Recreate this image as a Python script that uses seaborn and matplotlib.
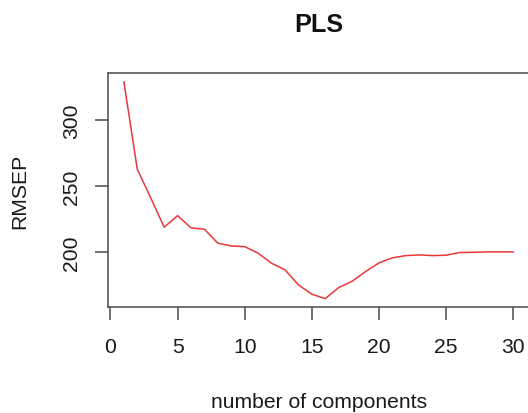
import numpy as np
import pandas as pd
import matplotlib
matplotlib.use("Agg")
import matplotlib.pyplot as plt
import seaborn as sns

# Cross-validated prediction error by number of PLS components
components = list(range(1, 31))
rmsep = [329.0, 262.5, 241.0, 218.7, 227.5, 218.2, 217.2, 206.6, 204.5, 204.0,
         199.0, 191.4, 186.4, 175.0, 167.9, 164.6, 173.0, 177.8, 185.1, 191.7,
         195.5, 197.2, 197.7, 197.2, 197.5, 199.5, 199.7, 200.0, 200.0, 200.0]
x_ticks = [0, 5, 10, 15, 20, 25, 30]
y_ticks = [200, 250, 300]

title = "PLS"
x_label = "number of components"
y_label = "RMSEP"

sns.set_theme(style="white")
plt.rcParams["font.family"] = ["Liberation Sans", "DejaVu Sans"]

df = pd.DataFrame({"ncomp": components, "RMSEP": rmsep})

W, H = 528, 414
fig = plt.figure(figsize=(W / 100, H / 100), dpi=100)
left, right, top, bottom = 108.3, 528.9, 74.0, 308.3
ax = fig.add_axes([left / W, (H - bottom) / H, (right - left) / W, (bottom - top) / H])

sns.lineplot(data=df, x="ncomp", y="RMSEP", ax=ax, color="#e8383a", linewidth=1.1)

# 4% padding around the data range on both axes
def padded(lo, hi):
    r = hi - lo
    return lo - 0.04 * r, hi + 0.04 * r

ax.set_xlim(*padded(min(components), max(components)))
ax.set_ylim(*padded(min(rmsep), max(rmsep)))

ax.set_xticks(x_ticks)
ax.set_yticks(y_ticks)
ax.set_xticklabels([str(t) for t in x_ticks])
ax.set_yticklabels([str(t) for t in y_ticks], rotation=90, va="center")

spine_color = "#4a4a4a"
for s in ax.spines.values():
    s.set_color(spine_color)
    s.set_linewidth(1.1)
    s.set_visible(True)

ax.tick_params(axis="both", which="major", direction="out", length=9.5, width=1.1,
               color=spine_color, labelsize=15.2, labelcolor="#1a1a1a",
               bottom=True, left=True)
ax.tick_params(axis="x", pad=12)
ax.tick_params(axis="y", pad=10)

ax.set_xlabel(x_label, fontsize=15.2, color="#1a1a1a")
ax.set_ylabel(y_label, fontsize=15.2, color="#1a1a1a")
ax.xaxis.set_label_coords(0.5, -(393 - bottom) / (bottom - top))
ax.xaxis.label.set_va("top")
ax.yaxis.set_label_coords((29.4 - left) / (right - left), 0.5)

ax.set_title(title, fontsize=18.2, fontweight="bold", color="#111111",
             y=(bottom - 31.7) / (bottom - top), pad=0)
ax.grid(False)

fig.savefig("out.png", dpi=100)
